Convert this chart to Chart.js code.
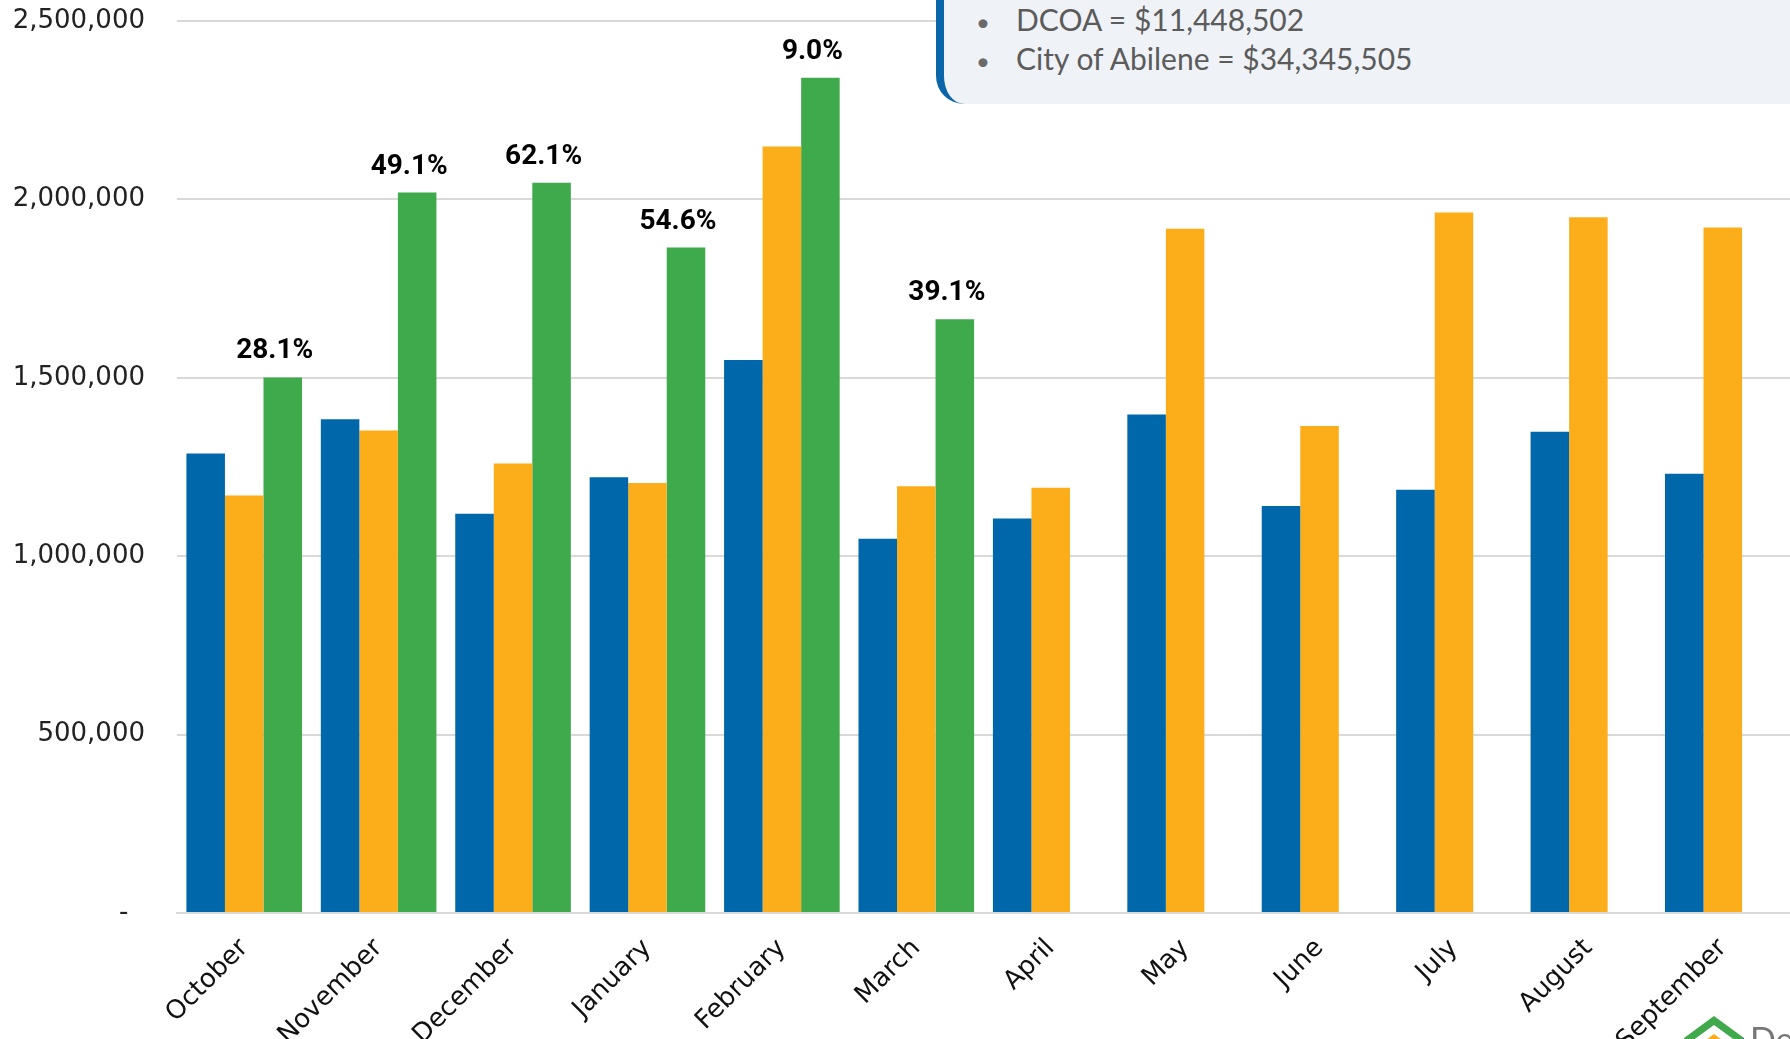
<!DOCTYPE html>
<html>
<head>
<meta charset="utf-8">
<script src="https://cdn.jsdelivr.net/npm/chart.js@4"></script>
<style>
    html, body { margin: 0; padding: 0; background: #ffffff; overflow: hidden; }
    #wrap { position: relative; width: 1790px; height: 1039px; }
    #myChart { position: absolute; left: 0; top: 0; }
    .nota {
        position: absolute; left: 936px; top: -40px; width: 900px; height: 144px;
        background: #eff3f8; border-left: 8px solid #0a66a9;
        border-bottom-left-radius: 28px; box-sizing: border-box;
        font-family: "Lato", sans-serif; font-size: 30px; color: #5b5b5b;
    }
    .nota div { position: absolute; left: 32px; white-space: nowrap; }
    .nota span { display: inline-block; width: 40px; font-size: 24px; color: #6a6a6a; }
    .logo { position: absolute; left: 1684px; top: 1016px; }
    .logo-txt { position: absolute; left: 1750px; top: 1018px; font-family: "Lato", sans-serif; font-size: 34px; color: #777; white-space: nowrap; }
</style>
</head>
<body>
<div id="wrap">
    <canvas id="myChart" width="1790" height="1039"></canvas>
    <div class="nota">
        <div style="top:41px"><span>•</span>DCOA = $11,448,502</div>
        <div style="top:80px"><span>•</span>City of Abilene = $34,345,505</div>
    </div>
    <svg class="logo" width="64" height="30" viewBox="0 0 64 30">
        <polygon points="0,22 30,0 60,22 60,30 52,30 52,25 30,9 8,25 8,30 0,30" fill="#3fa94b"/>
        <polygon points="14,30 30,18 46,30" fill="#fbae1a"/>
        <polygon points="52,25 60,22 60,30 52,30" fill="#0a66a9"/>
    </svg>
    <div class="logo-txt">Develop Abilene</div>
</div>

<script>
// meses del año fiscal
const meses = ["October", "November", "December", "January", "February", "March",
    "April", "May", "June", "July", "August", "September"];

// tres series (azul, naranja, verde)
const serieAzul = [1288000, 1384000, 1119000, 1221000, 1550000, 1049000,
    1106000, 1397000, 1141000, 1186000, 1349000, 1231000];
const serieNaranja = [1170000, 1352000, 1260000, 1205000, 2148000, 1196000,
    1192000, 1918000, 1365000, 1963000, 1950000, 1921000];
const serieVerde = [1501000, 2019000, 2047000, 1865000, 2341000, 1664000,
    null, null, null, null, null, null];

const porcentajes = ["28.1%", "49.1%", "62.1%", "54.6%", "9.0%", "39.1%"];

const ticksY = [0, 500000, 1000000, 1500000, 2000000, 2500000];

const fuente = "'DejaVu Sans', sans-serif";

// etiquetas de porcentaje sobre las barras verdes
const etiquetasPct = {
    id: "etiquetasPct",
    afterDatasetsDraw(chart) {
        const ctx = chart.ctx;
        const meta = chart.getDatasetMeta(2);
        ctx.save();
        ctx.font = "bold 28px Roboto, sans-serif";
        ctx.fillStyle = "#000000";
        ctx.textAlign = "center";
        ctx.textBaseline = "alphabetic";
        meta.data.forEach((barra, i) => {
            if (porcentajes[i] && serieVerde[i] != null) {
                ctx.fillText(porcentajes[i], barra.x - 8, barra.y - 19);
            }
        });
        ctx.restore();
    }
};

const config = {
    type: "bar",
    data: {
        labels: meses,
        datasets: [
            { label: "Azul", data: serieAzul, backgroundColor: "#0068aa" },
            { label: "Naranja", data: serieNaranja, backgroundColor: "#fbae1a" },
            { label: "Verde", data: serieVerde, backgroundColor: "#3faa4b" }
        ]
    },
    options: {
        responsive: false,
        animation: false,
        devicePixelRatio: 1,
        layout: { padding: { top: 21, right: 0, bottom: 0, left: 0 } },
        datasets: {
            bar: { categoryPercentage: 0.86, barPercentage: 1.0 }
        },
        plugins: {
            legend: { display: false },
            tooltip: { enabled: false }
        },
        scales: {
            x: {
                grid: { display: false, drawTicks: false },
                border: { display: true, color: "#d9d9d9", width: 2 },
                ticks: {
                    autoSkip: false,
                    minRotation: 45,
                    maxRotation: 45,
                    padding: 20,
                    color: "#111111",
                    font: { family: fuente, size: 26 }
                },
                afterFit(scale) {
                    scale.height = 126;
                    scale.paddingTop = 0;
                    scale.paddingBottom = 0;
                }
            },
            y: {
                min: 0,
                max: 2500000,
                afterBuildTicks(scale) {
                    scale.ticks = ticksY.map(v => ({ value: v }));
                },
                grid: { color: "#d9d9d9", lineWidth: 2, drawTicks: false },
                border: { display: false },
                ticks: {
                    padding: 32,
                    color: "#222222",
                    font: { family: fuente, size: 26 },
                    callback: function (v) {
                        return v === 0 ? "-  " : v.toLocaleString("en-US");
                    }
                },
                afterFit(scale) {
                    scale.width = 177;
                    scale.paddingTop = 0;
                    scale.paddingBottom = 0;
                }
            }
        }
    },
    plugins: [etiquetasPct]
};

let myChart = new Chart(document.getElementById("myChart"), config);
</script>
</body>
</html>
